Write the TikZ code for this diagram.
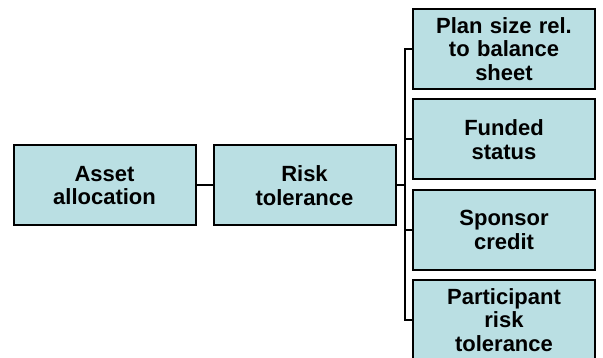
\documentclass[tikz,border=0pt]{standalone}
\usepackage{fontspec}
\setmainfont{Liberation Sans}
\definecolor{boxfill}{RGB}{186,223,227}
\tikzset{
  box/.style={draw=black, line width=2pt, fill=boxfill, minimum width=182pt, minimum height=80pt,
    inner sep=0pt, align=center, text width=176pt,
    font=\fontsize{22}{23.4}\selectfont\bfseries},
  link/.style={draw=black, line width=2pt}
}
\begin{document}
\begin{tikzpicture}[x=1pt,y=1pt]
\useasboundingbox[fill=white] (0,0) rectangle (603,-358);
\node[box] (asset) at (104.5,-185.5) {Asset\\allocation};
\node[box] (risk) at (304.5,-185.5) {Risk\\tolerance};
\node[box] (plan) at (504,-49) {Plan size rel.\\to balance\\sheet};
\node[box] (fund) at (504,-139.5) {Funded\\status};
\node[box] (spon) at (504,-230) {Sponsor\\credit};
\node[box] (part) at (504,-320) {Participant\\risk\\tolerance};
\coordinate (trunk) at (405,0);
\draw[link] (asset.east) -- (risk.west);
\draw[link] (risk.east) -- (trunk |- risk.east);
\draw[link] (plan.west) -- (trunk |- plan.west) -- (trunk |- part.west) -- (part.west);
\draw[link] (trunk |- fund.west) -- (fund.west);
\draw[link] (trunk |- spon.west) -- (spon.west);
\end{tikzpicture}
\end{document}
